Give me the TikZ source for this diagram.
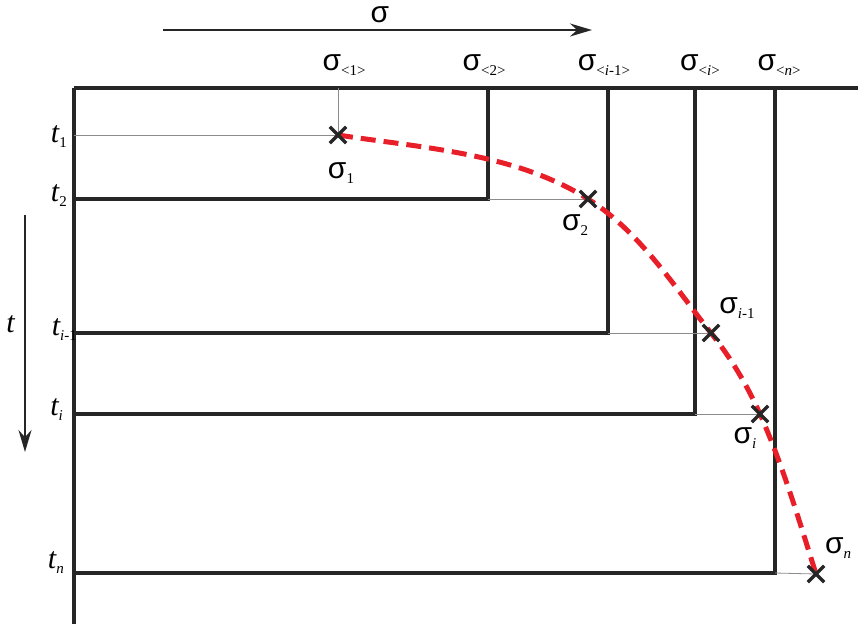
\documentclass[tikz,border=0pt]{standalone}
\usepackage{fontspec}
\setmainfont{Liberation Serif}
\newfontfamily\sgfont{Liberation Sans}
\usetikzlibrary{arrows.meta, shapes.misc, positioning}

\definecolor{trred}{RGB}{232,30,40}
\newcommand{\sg}{{\sgfont σ}}
\newcommand{\lowsub}[1]{\raisebox{-5pt}{\fontsize{15}{15}\selectfont\upshape #1}}

\tikzset{
  frame/.style={line width=3.2pt, black!85},
  guide/.style={line width=0.8pt, black!45},
  xmark/.style={cross out, draw=black!85, line width=3.4pt, minimum size=13pt, inner sep=0pt},
  trace/.style={trred, line width=5pt, dash pattern=on 15pt off 8pt},
  axis/.style={line width=2.2pt, black!85, -{Stealth[length=22pt, width=13pt]}},
  tlab/.style={font=\fontsize{30}{32}\selectfont\itshape, inner sep=0pt, anchor=base east},
  slab/.style={font=\fontsize{30}{32}\selectfont, inner sep=0pt, anchor=base},
}

\begin{document}
\begin{tikzpicture}[x=1pt, y=-1pt]
\useasboundingbox (0,0) rectangle (858,624);

% axes
\coordinate (sa) at (163,30);
\coordinate (sb) at (592,30);
\draw[axis] (sa) -- (sb);
\node[slab] (sig) at (380,22) {\sg};
\coordinate (ta) at (25,215);
\coordinate (tb) at (25,452);
\draw[axis] (ta) -- (tb);
\node[tlab] (tax) at (15,332) {t};

% frame
\coordinate (o) at (74,88);
\draw[frame] (o) -- (858,88);
\draw[frame] (o) -- (74,624);

% points of the curve
\coordinate (p1) at (338,135);
\coordinate (p2) at (588,199);
\coordinate (p3) at (711,333);
\coordinate (p4) at (760,414);
\coordinate (p5) at (816,574);

% steps
\draw[guide] (74,135) -- (p1) -- (338,88);
\draw[frame] (74,199) -- (488,199) -- (488,88);
\draw[frame] (74,333) -- (608,333) -- (608,88);
\draw[frame] (74,414) -- (695,414) -- (695,88);
\draw[frame] (74,573) -- (775,573) -- (775,88);
\draw[guide] (488,199) -- (p2);
\draw[guide] (608,333) -- (p3);
\draw[guide] (695,414) -- (p4);
\draw[guide] (775,573) -- (p5);

% red curve
\draw[trace] (p1) .. controls (423,148) and (515,153) .. (p2)
  .. controls (639,231) and (674,286) .. (p3)
  .. controls (731,358) and (747,385) .. (p4)
  .. controls (783,466) and (799,520) .. (p5);

\node[xmark] (x1) at (p1) {};
\node[xmark] (x2) at (p2) {};
\node[xmark] (x3) at (p3) {};
\node[xmark] (x4) at (p4) {};
\node[xmark] (x5) at (p5) {};

% top labels
\node[slab] (sg1) at (344,70) {\sg\lowsub{<1>}};
\node[slab] (sg2) at (484,70) {\sg\lowsub{<2>}};
\node[slab] (sgim) at (604,70) {\sg\lowsub{<\textit{i}-1>}};
\node[slab] (sgi) at (700,70) {\sg\lowsub{<\textit{i}>}};
\node[slab] (sgn) at (779,70) {\sg\lowsub{<\textit{n}>}};

% left labels
\node[tlab] (t1) at (67,142) {t\lowsub{1}};
\node[tlab] (t2) at (67,201) {t\lowsub{2}};
\node[tlab] (tim) at (77,335) {t\lowsub{\textit{i}-1}};
\node[tlab] (ti) at (63,415) {t\lowsub{\textit{i}}};
\node[tlab] (tn) at (64,568) {t\lowsub{\textit{n}}};

% point labels
\node[slab] (s1) at (341,178) {\sg\lowsub{1}};
\node[slab] (s2) at (575,230) {\sg\lowsub{2}};
\node[slab] (sim) at (737,313) {\sg\lowsub{\textit{i}-1}};
\node[slab] (si) at (745,443) {\sg\lowsub{\textit{i}}};
\node[slab] (sn) at (838,553) {\sg\lowsub{\textit{n}}};
\end{tikzpicture}
\end{document}
